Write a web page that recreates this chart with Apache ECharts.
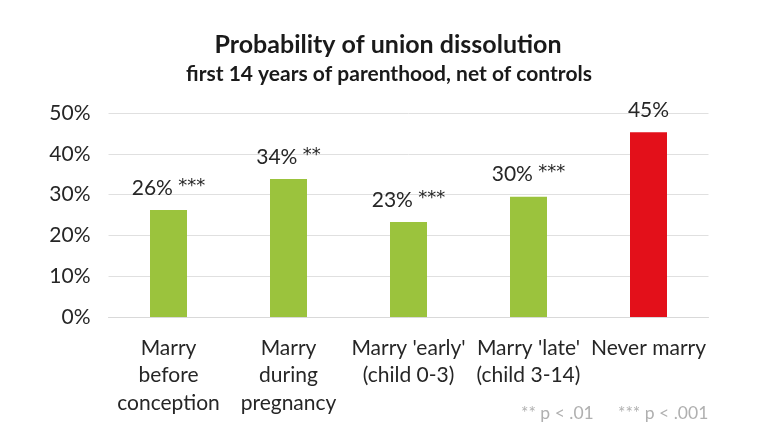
<!DOCTYPE html>
<html><head><meta charset="utf-8">
<script src="https://cdn.jsdelivr.net/npm/echarts@6/dist/echarts.min.js"></script>
<style>html,body{margin:0;padding:0;background:#fff}#c{width:768px;height:442px}</style>
</head><body><div id="c"></div>
<script>
var categories = ["Marry\nbefore\nconception", "Marry\nduring\npregnancy", "Marry 'early'\n(child 0-3)", "Marry 'late'\n(child 3-14)", "Never marry"];
var values = [26.2, 33.8, 23.3, 29.5, 45.3];
var valueLabels = ["26%", "34%", "23%", "30%", "45%"];
var stars = ["***", "**", "***", "***", ""];
var barColors = ["#9bc33d", "#9bc33d", "#9bc33d", "#9bc33d", "#e3101a"];
var yTicks = [0, 10, 20, 30, 40, 50];
var footnotes = ["** p < .01", "*** p < .001"];

var FONT = "Lato, 'Open Sans', sans-serif";
var chart = echarts.init(document.getElementById('c'));
chart.setOption({
  backgroundColor: '#fff',
  animation: false,
  title: [
    {text: 'Probability of union dissolution', left: 383, top: 27, textAlign: 'center',
     textStyle: {fontFamily: FONT, fontSize: 25, fontWeight: 'bold', color: '#1a1a1a'}},
    {text: 'first 14 years of parenthood, net of controls', left: 384, top: 59, textAlign: 'center',
     textStyle: {fontFamily: FONT, fontSize: 21, fontWeight: 'bold', color: '#1a1a1a'}},
    {text: footnotes[0], left: 516, top: 399,
     textStyle: {fontFamily: FONT, fontSize: 17.5, fontWeight: 'normal', color: '#b0b0b0'}},
    {text: footnotes[1], left: 613, top: 399,
     textStyle: {fontFamily: FONT, fontSize: 17.5, fontWeight: 'normal', color: '#b0b0b0'}}
  ],
  grid: {left: 108.5, right: 59.5, top: 113, bottom: 125},
  xAxis: {
    type: 'category', data: categories,
    axisLine: {show: true, lineStyle: {color: '#d9d9d9', width: 1}},
    axisTick: {show: false},
    axisLabel: {fontFamily: FONT, fontSize: 21, color: '#262626', lineHeight: 27.5, margin: 17, interval: 0}
  },
  yAxis: {
    type: 'value', min: 0, max: 50, interval: 10,
    axisLine: {show: false}, axisTick: {show: false},
    splitLine: {lineStyle: {color: '#e0e0e0', width: 1}},
    axisLabel: {fontFamily: FONT, fontSize: 21, color: '#262626', margin: 18,
      formatter: function (v) { return yTicks.indexOf(v) >= 0 ? v + '%' : ''; }}
  },
  series: [{
    type: 'bar', barWidth: 37,
    data: values.map(function (v, i) { return {value: v, itemStyle: {color: barColors[i]}}; }),
    label: {show: true, position: 'top', distance: 11, fontFamily: FONT, fontSize: 21, color: '#262626',
      rich: {s: {fontFamily: "'DejaVu Sans', sans-serif", fontSize: 18, color: '#262626', padding: [0, 0, 4, 0]}},
      formatter: function (p) { var s = stars[p.dataIndex]; return valueLabels[p.dataIndex] + (s ? ' {s|' + s + '}' : ''); }}
  }]
});
</script></body></html>
